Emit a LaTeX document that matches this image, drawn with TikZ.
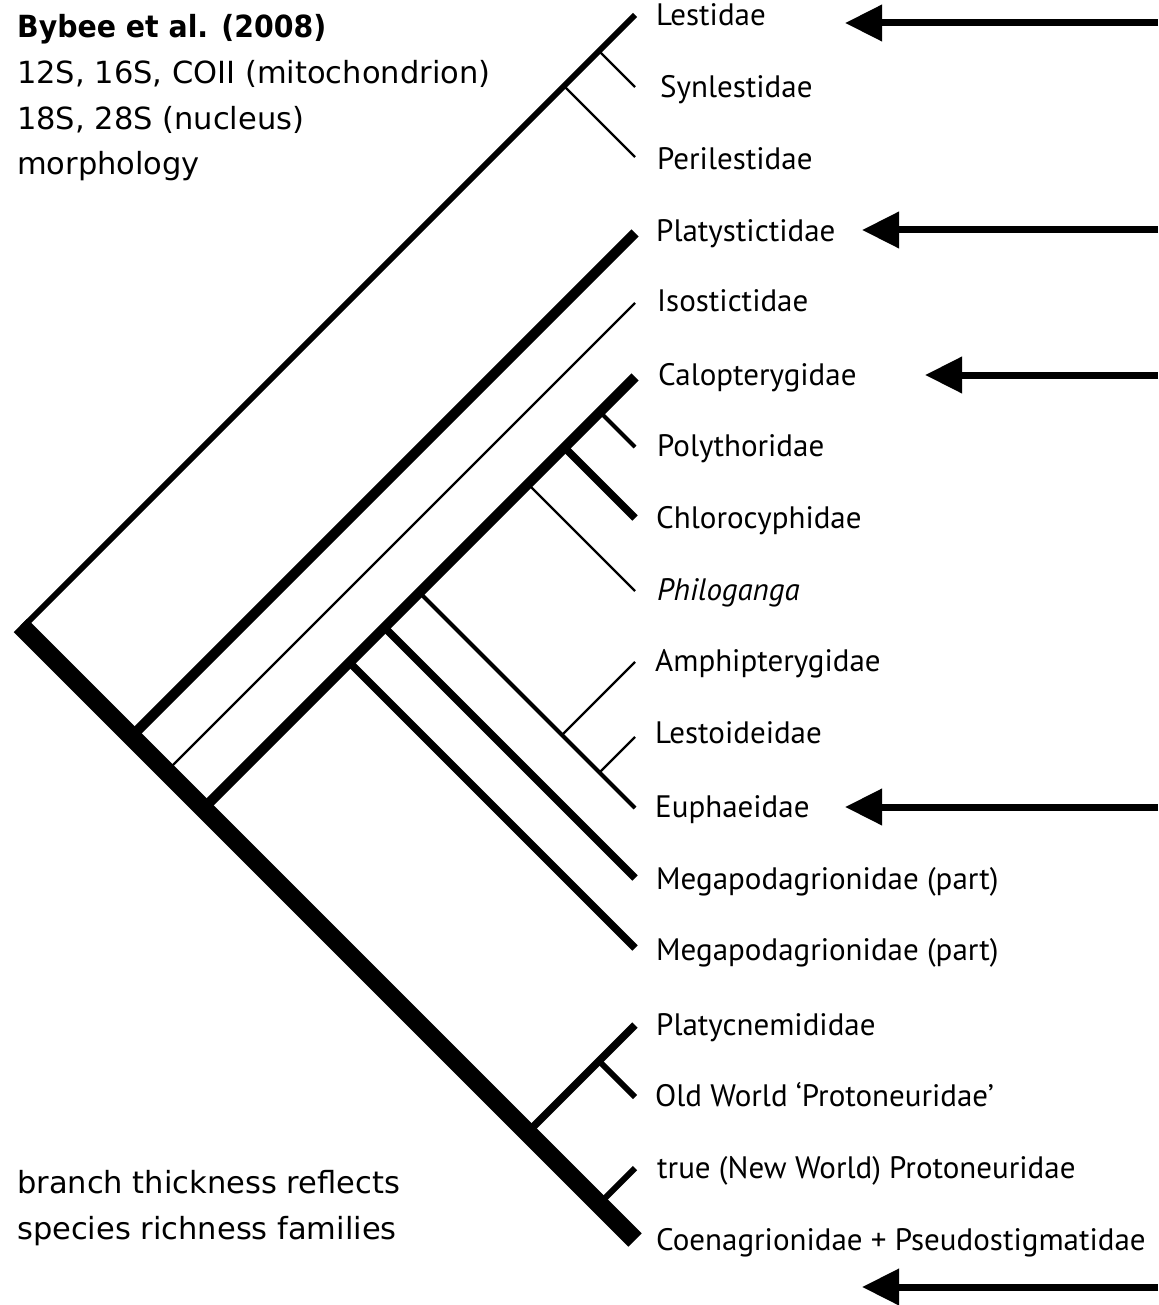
\documentclass[tikz,border=0pt]{standalone}
\usepackage{fontspec}
\usepackage{graphicx}
\setmainfont{PT Sans}
\newfontfamily\notefont{DejaVu Sans}
\usetikzlibrary{arrows.meta}
\begin{document}
\begin{tikzpicture}[x=1bp,y=-1bp,
  br/.style={line cap=butt,line join=miter},
  wA/.style={br,line width=2.4bp},
  wB/.style={br,line width=4bp},
  wC/.style={br,line width=6bp},
  wD/.style={br,line width=7.5bp},
  wE/.style={br,line width=10bp},
  wF/.style={br,line width=19bp},
  taxon/.style={anchor=base west,inner sep=0pt,font=\fontsize{31bp}{37bp}\selectfont},
  note/.style={anchor=base west,inner sep=0pt,font=\notefont\fontsize{30.5bp}{45bp}\selectfont},
  marker/.style={line width=7bp,-{Triangle[length=37bp,width=35bp]}}]
\useasboundingbox (0,0) rectangle (1158,1305);
% tips
\coordinate (t0) at (635,15);
\coordinate (t1) at (635,87);
\coordinate (t2) at (635,157);
\coordinate (t3) at (635,233);
\coordinate (t4) at (635,303);
\coordinate (t5) at (635,377);
\coordinate (t6) at (635,447);
\coordinate (t7) at (635,518);
\coordinate (t8) at (635,591);
\coordinate (t9) at (635,662);
\coordinate (t10) at (635,737);
\coordinate (t11) at (635,808);
\coordinate (t12) at (635,878);
\coordinate (t13) at (635,948);
\coordinate (t14) at (635,1025);
\coordinate (t15) at (635,1097);
\coordinate (t16) at (635,1168);
\coordinate (t17) at (635,1240);
% internal nodes
\coordinate (root) at (22.5,627.5);
\coordinate (n0_2) at (564,86);
\coordinate (n0_1) at (599,51);
\coordinate (n3_17) at (131.5,736.5);
\coordinate (n4_17) at (166.5,771.5);
\coordinate (n5_17) at (203.5,808.5);
\coordinate (n5_13) at (349.5,662.5);
\coordinate (n5_12) at (384.5,627.5);
\coordinate (n5_11) at (419.5,592.5);
\coordinate (n5_8) at (528,484);
\coordinate (n5_7) at (564.5,447.5);
\coordinate (n5_6) at (600,412);
\coordinate (n9_11) at (562,735);
\coordinate (n10_11) at (599.5,772.5);
\coordinate (n14_17) at (527.5,1132.5);
\coordinate (n14_15) at (599,1061);
\coordinate (n16_17) at (599,1204);
% branches
\draw[wA] (n0_1) -- (t1);
\draw[wA] (n0_2) -- (t2);
\draw[wC] (root) -- (t0);
\draw[wA] (n4_17) -- (t4);
\draw[wE] (n3_17) -- (t3);
\draw[wA] (n5_8) -- (t8);
\draw[wB] (n5_6) -- (t6);
\draw[wD] (n5_7) -- (t7);
\draw[wA] (n9_11) -- (t9);
\draw[wA] (n10_11) -- (t10);
\draw[wB] (n5_11) -- (t11);
\draw[wD] (n5_12) -- (t12);
\draw[wD] (n5_13) -- (t13);
\draw[wE] (n5_17) -- (t5);
\draw[wC] (n14_15) -- (t15);
\draw[wD] (n14_17) -- (t14);
\draw[wC] (n16_17) -- (t16);
\draw[wF,shorten <=-3bp] (root) -- (t17);
% taxon labels
\node[taxon] (l0) at (656,26) {Lestidae};
\node[taxon] (l1) at (660,98) {Synlestidae};
\node[taxon] (l2) at (657,170) {Perilestidae};
\node[taxon] (l3) at (656,242) {Platystictidae};
\node[taxon] (l4) at (657,312) {Isostictidae};
\node[taxon] (l5) at (658,385) {Calopterygidae};
\node[taxon] (l6) at (657,456) {Polythoridae};
\node[taxon] (l7) at (656,528) {Chlorocyphidae};
\node[taxon] (l8) at (657,600) {\itshape Philoganga};
\node[taxon] (l9) at (655,671) {Amphipterygidae};
\node[taxon] (l10) at (655,743) {Lestoideidae};
\node[taxon] (l11) at (655,817) {Euphaeidae};
\node[taxon] (l12) at (656,889) {Megapodagrionidae (part)};
\node[taxon] (l13) at (656,960) {Megapodagrionidae (part)};
\node[taxon] (l14) at (656,1035) {Platycnemididae};
\node[taxon] (l15) at (655,1106) {Old World ‘Protoneuridae’};
\node[taxon] (l16) at (657,1178) {true (New World) Protoneuridae};
\node[taxon] (l17) at (656,1250) {Coenagrionidae + Pseudostigmatidae};
% notes
\node[note] (h1) at (17,38) {\bfseries\scalebox{0.93}[1]{Bybee et al. (2008)}};
\node[note] (h2) at (17,84) {12S, 16S, COII (mitochondrion)};
\node[note] (h3) at (17,130) {18S, 28S (nucleus)};
\node[note] (h4) at (17,175) {morphology};
\node[note] (f1) at (17,1193) {branch thickness reflects};
\node[note] (f2) at (17,1239) {species richness families};
% arrows
\coordinate (a0s) at (1158,23);   \coordinate (a0e) at (845,23);
\coordinate (a3s) at (1158,230);  \coordinate (a3e) at (862,230);
\coordinate (a5s) at (1158,375);  \coordinate (a5e) at (925,375);
\coordinate (a11s) at (1158,807); \coordinate (a11e) at (845,807);
\coordinate (a17s) at (1158,1287);\coordinate (a17e) at (862,1287);
\draw[marker] (a0s) -- (a0e);
\draw[marker] (a3s) -- (a3e);
\draw[marker] (a5s) -- (a5e);
\draw[marker] (a11s) -- (a11e);
\draw[marker] (a17s) -- (a17e);
\end{tikzpicture}
\end{document}
